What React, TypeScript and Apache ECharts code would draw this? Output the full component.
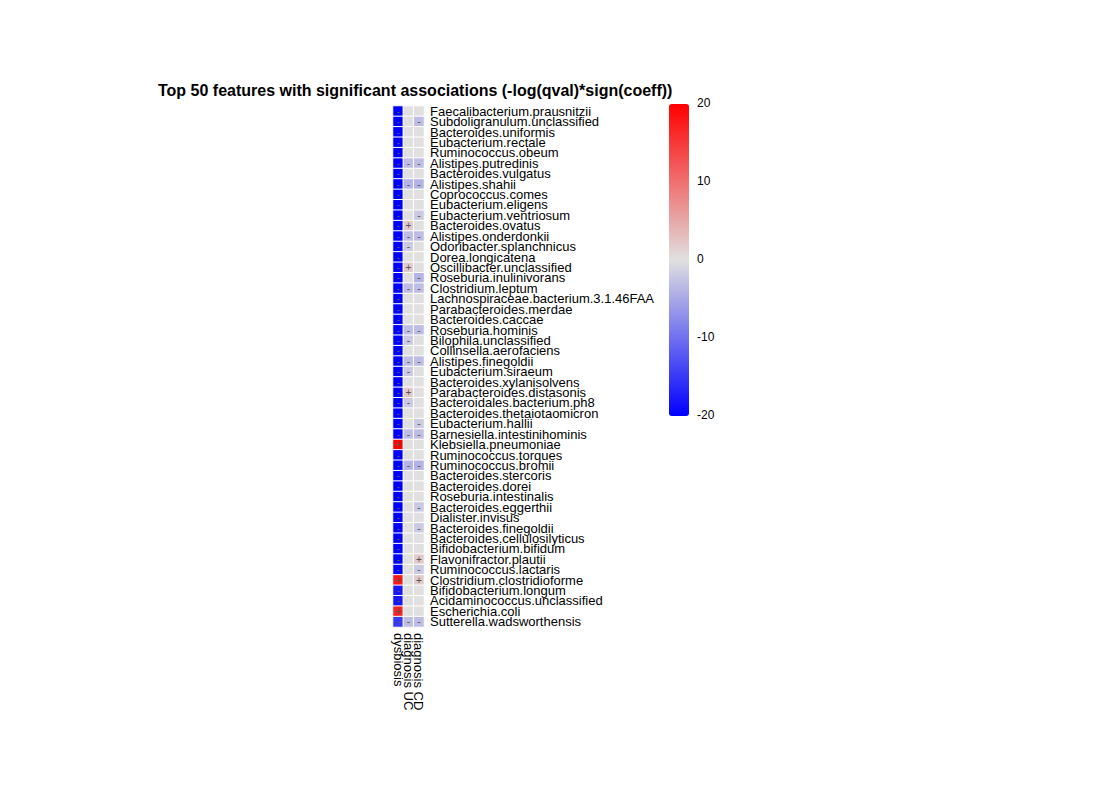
import React, { useEffect, useRef } from 'react'
import * as echarts from 'echarts'

const features = [
  'Faecalibacterium.prausnitzii', 'Subdoligranulum.unclassified', 'Bacteroides.uniformis', 'Eubacterium.rectale',
  'Ruminococcus.obeum', 'Alistipes.putredinis', 'Bacteroides.vulgatus', 'Alistipes.shahii', 'Coprococcus.comes',
  'Eubacterium.eligens', 'Eubacterium.ventriosum', 'Bacteroides.ovatus', 'Alistipes.onderdonkii',
  'Odoribacter.splanchnicus', 'Dorea.longicatena', 'Oscillibacter.unclassified', 'Roseburia.inulinivorans',
  'Clostridium.leptum', 'Lachnospiraceae.bacterium.3.1.46FAA', 'Parabacteroides.merdae', 'Bacteroides.caccae',
  'Roseburia.hominis', 'Bilophila.unclassified', 'Collinsella.aerofaciens', 'Alistipes.finegoldii',
  'Eubacterium.siraeum', 'Bacteroides.xylanisolvens', 'Parabacteroides.distasonis', 'Bacteroidales.bacterium.ph8',
  'Bacteroides.thetaiotaomicron', 'Eubacterium.hallii', 'Barnesiella.intestinihominis', 'Klebsiella.pneumoniae',
  'Ruminococcus.torques', 'Ruminococcus.bromii', 'Bacteroides.stercoris', 'Bacteroides.dorei',
  'Roseburia.intestinalis', 'Bacteroides.eggerthii', 'Dialister.invisus', 'Bacteroides.finegoldii',
  'Bacteroides.cellulosilyticus', 'Bifidobacterium.bifidum', 'Flavonifractor.plautii', 'Ruminococcus.lactaris',
  'Clostridium.clostridioforme', 'Bifidobacterium.longum', 'Acidaminococcus.unclassified', 'Escherichia.coli',
  'Sutterella.wadsworthensis',
]
const metadata = ['dysbiosis', 'diagnosis UC', 'diagnosis CD']
const scaleTicks = [20, 10, 0, -10, -20]

const dysbiosis = [
  -20, -20, -20, -20, -20, -20, -20, -20, -20, -20, -20, -20, -20, -20, -20, -20, -20, -20, -20, -20,
  -20, -20, -20, -20, -20, -20, -20, -20, -20, -20, -20, -20, 20, -20, -20, -20, -20, -20, -20, -20,
  -20, -20, -20, -20, -20, 18, -18, -18, 17, -15,
]
const diagnosisUC = [
  0, 0, 0, 0, 0, -3, 0, -4, 0, 0, 0, 2, -3, -2, 0, 2, 0, -3, 0, 0,
  0, -3, -2, 0, -3, -2, 0, 2, -2, 0, 0, -3, 0, 0, -4, 0, 0, 0, 0, 0,
  0, 0, 0, 0, 0, 0, 0, 0, 0, -3,
]
const diagnosisCD = [
  0, -3, 0, 0, 0, -3, 0, -4, 0, 0, -2, 0, -3, 0, 0, 0, -4, -3, 0, 0,
  0, -3, 0, 0, -3, 0, 0, 0, 0, 0, -2, -3, 0, 0, -4, 0, 0, 0, -2, 0,
  -2, 0, 0, 2, -2, 2, 0, 0, 0, -3,
]

const FONT = 'Liberation Sans, Arial, sans-serif'

export default function App() {
  const ref = useRef<HTMLDivElement | null>(null)

  useEffect(() => {
    if (!ref.current) return
    const chart = echarts.init(ref.current, null, { renderer: 'svg' })
    const cols = [dysbiosis, diagnosisUC, diagnosisCD]
    const data: any[] = []
    cols.forEach((vals, x) => vals.forEach((v, y) => data.push([x, y, v])))

    chart.setOption({
      animation: false,
      textStyle: { fontFamily: FONT },
      title: {
        text: 'Top 50 features with significant associations (-log(qval)*sign(coeff))',
        left: 153, top: 77,
        textStyle: { fontSize: 16, fontWeight: 'bold', color: '#000', fontFamily: FONT },
      },
      grid: { left: 393, top: 106, width: 31, height: 521 },
      xAxis: {
        type: 'category', data: metadata,
        axisLine: { show: false }, axisTick: { show: false }, splitArea: { show: false },
        axisLabel: { rotate: -90, color: '#000', fontSize: 13, interval: 0, margin: 6 },
      },
      yAxis: {
        type: 'category', data: features, inverse: true, position: 'right',
        axisLine: { show: false }, axisTick: { show: false },
        axisLabel: { color: '#000', fontSize: 13, interval: 0, margin: 6 },
      },
      visualMap: {
        type: 'continuous', min: -20, max: 20, calculable: false,
        orient: 'vertical', left: 669, top: 104, itemWidth: 20, itemHeight: 312,
        padding: 0, showLabel: false,
        inRange: { color: ['#0000ff', '#e0e0e0', '#ff0000'] },
      },
      graphic: scaleTicks.map((v, i) => ({
        type: 'text', left: 697, top: 104 + i * 78 - 7, z: 100,
        style: { text: String(v), fill: '#000', fontSize: 12, fontFamily: FONT },
      })),
      series: [{
        type: 'heatmap',
        data,
        itemStyle: { borderColor: '#ffffff', borderWidth: 1 },
        label: {
          show: true, fontSize: 10, color: '#555',
          formatter: (p: any) => (p.value[2] > 0 ? '+' : p.value[2] < 0 ? '-' : ''),
        },
        emphasis: { disabled: true },
      }],
    } as any)

    return () => chart.dispose()
  }, [])

  return <div ref={ref} style={{ position: 'absolute', left: 0, top: 0, width: 1100, height: 800 }} />
}
